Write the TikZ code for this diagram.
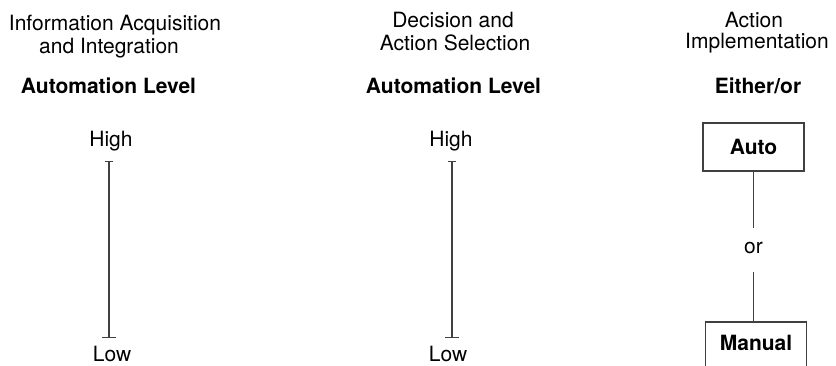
\documentclass[tikz,border=0pt]{standalone}
\usepackage{fontspec}
\setmainfont{TeX Gyre Heros}
\usetikzlibrary{arrows.meta}
\definecolor{linegray}{HTML}{404040}
\tikzset{
  lbl/.style={anchor=base, inner sep=0pt, font=\fontsize{21}{22}\selectfont},
  hdr/.style={lbl, font=\fontsize{21}{22}\selectfont\bfseries},
  scalebar/.style={draw=linegray, line width=1.3pt,
    {Bar[width=8pt,line width=1.3pt]}-{Bar[width=14pt,line width=1.3pt]}},
  modebox/.style={draw=linegray, line width=1.5pt, minimum width=101pt,
    font=\fontsize{21}{22}\selectfont\bfseries, inner xsep=4pt},
  link/.style={draw=linegray, line width=1.5pt}
}
\begin{document}
\begin{tikzpicture}[x=1pt,y=-1pt]
\useasboundingbox (0,0) rectangle (836,365);
\clip (0,0) rectangle (836,365);
% column 1
\node[lbl] (t1a) at (115,30) {Information Acquisition};
\node[lbl] (t1b) at (109,53) {and Integration};
\node[hdr] (h1) at (108.5,93) {Automation Level};
\node[lbl] (hi1) at (111,146) {High};
\node[lbl] (lo1) at (112,361.5) {Low};
\coordinate (top1) at (109,161);
\coordinate (bot1) at (109,338);
\draw[scalebar] (top1) -- (bot1);
% column 2
\node[lbl] (t2a) at (453,27) {Decision and};
\node[lbl] (t2b) at (455,50) {Action Selection};
\node[hdr] (h2) at (453.5,93) {Automation Level};
\node[lbl] (hi2) at (451,146) {High};
\node[lbl] (lo2) at (448,361.5) {Low};
\coordinate (top2) at (452,161);
\coordinate (bot2) at (452,338);
\draw[scalebar] (top2) -- (bot2);
% column 3
\node[lbl] (t3a) at (754,27) {Action};
\node[lbl] (t3b) at (757,48) {Implementation};
\node[hdr] (h3) at (758,93) {Either/or};
\node[modebox, minimum height=48pt] (auto) at (753.5,147) {Auto};
\node[anchor=base, inner xsep=2pt, inner ysep=14pt, text height=11pt, text depth=5pt,
      font=\fontsize{21}{22}\selectfont] (or) at (753.5,253) {or};
\node[modebox, anchor=north, text height=22pt, text depth=20pt, inner ysep=7pt] (manual) at (756,321) {Manual};
\draw[link] (auto.south) -- (or.north);
\draw[link] (or.south) -- (or.south |- manual.north);
\end{tikzpicture}
\end{document}
